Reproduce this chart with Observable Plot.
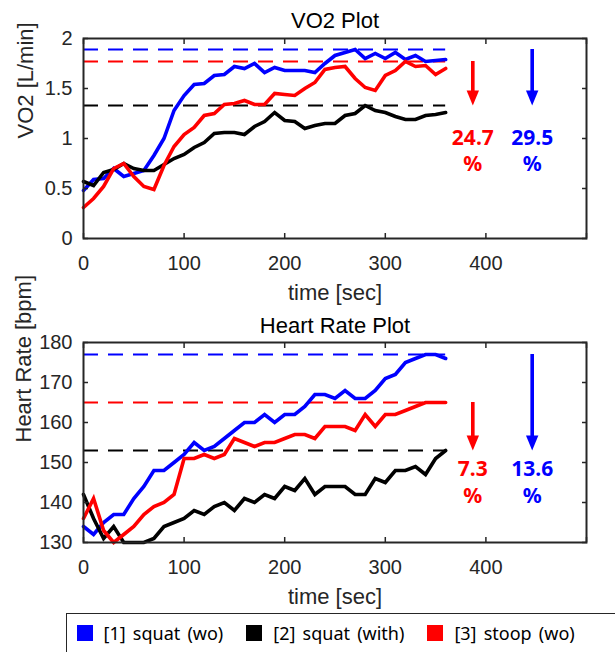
<!DOCTYPE html>
<html>
<head>
<meta charset="utf-8">
<script src="https://cdn.jsdelivr.net/npm/d3@7"></script>
<script src="https://cdn.jsdelivr.net/npm/@observablehq/plot@0.6"></script>
<style>
  body { margin: 0; background: #fff; }
  #wrap { position: relative; width: 615px; height: 652px; overflow: hidden; background: #fff; }
  #top { position: absolute; left: 0; top: 0; }
  #bot { position: absolute; left: 0; top: 300px; }
  #legend { position: absolute; left: 66px; top: 613px; width: 600px; height: 60px; box-sizing: border-box;
            border: 1.5px solid #262626; background: #fff; font-family: "Noto Sans", sans-serif; font-size: 18px; color: #000;
            word-spacing: 2.5px; display: flex; align-items: flex-start; padding-left: 9.5px; padding-top: 1px; }
  .item { display: flex; align-items: center; margin-right: 23px; height: 36px; white-space: pre; }
  .sw { width: 16px; height: 16px; margin-right: 11px; }
</style>
</head>
<body>
<div id="wrap">
  <div id="top"></div>
  <div id="bot"></div>
  <div id="legend"></div>
</div>
<script>
// ---------- data ----------
const time = [0,10,20,30,40,50,60,70,80,90,100,110,120,130,140,150,160,170,180,
              190,200,210,220,230,240,250,260,270,280,290,300,310,320,330,340,350,360];

const seriesNames = ["[1] squat (wo)", "[2] squat (with)", "[3] stoop (wo)"];
const seriesColors = ["#0000ff", "#000000", "#ff0000"];

// VO2 [L/min]
const vo2SquatWo = [0.48,0.59,0.60,0.70,0.62,0.65,0.68,0.83,1.00,1.28,1.43,1.54,1.55,1.63,1.64,1.72,1.70,1.75,1.66,
                    1.71,1.68,1.68,1.68,1.66,1.75,1.83,1.86,1.89,1.80,1.85,1.80,1.86,1.79,1.83,1.77,1.78,1.79];
const vo2SquatWith = [0.57,0.53,0.66,0.69,0.75,0.70,0.68,0.68,0.74,0.80,0.84,0.91,0.96,1.05,1.06,1.06,1.04,1.12,1.17,
                      1.26,1.18,1.17,1.10,1.13,1.15,1.15,1.23,1.25,1.33,1.28,1.26,1.22,1.19,1.19,1.23,1.24,1.26];
const vo2StoopWo = [0.31,0.40,0.52,0.70,0.75,0.62,0.52,0.49,0.73,0.92,1.04,1.11,1.23,1.25,1.34,1.35,1.38,1.34,1.34,
                    1.45,1.44,1.43,1.50,1.56,1.69,1.71,1.72,1.60,1.51,1.48,1.63,1.68,1.77,1.72,1.73,1.64,1.70];
const vo2Levels = [1.89, 1.33, 1.77];          // dashed reference levels (blue, black, red)
const vo2Reduction = ["29.5", "24.7"];         // blue, red

// Heart rate [bpm]
const hrSquatWo = [134,132,135,137,137,141,144,148,148,150,152,155,153,154,156,158,160,160,162,
                   160,162,162,164,167,167,166,168,166,166,168,171,172,175,176,177,177,176];
const hrSquatWith = [142,136,131,134,130,130,130,131,134,135,136,138,137,139,140,138,141,140,142,
                     141,144,143,146,142,144,144,144,142,142,146,145,148,148,149,147,151,153];
const hrStoopWo = [136,141,133,130,132,134,137,139,140,142,151,151,152,151,152,156,155,154,155,
                   155,156,157,157,156,159,159,159,158,162,159,162,162,163,164,165,165,165];
const hrLevels = [177, 153, 165];
const hrReduction = ["13.6", "7.3"];

const vo2Ticks = [0, 0.5, 1, 1.5, 2];
const vo2TickLabels = ["0", "0.5", "1", "1.5", "2"];
const hrTicks = [130, 140, 150, 160, 170, 180];
const xTicks = [0, 100, 200, 300, 400, 500];

// ---------- drawing ----------
const ANN_X = [446, 387];   // annotation columns (x data units): blue, red
const FONT = "'Liberation Sans', Arial, sans-serif";
const AX = "#262626";

const headShape = {
  draw(context) {           // filled downward triangle, tip at origin
    context.moveTo(-6.2, -15);
    context.lineTo(6.2, -15);
    context.lineTo(0, 0);
    context.closePath();
  }
};

function panel(o) {
  const series = o.series.map((vals, k) => vals.map((v, i) => ({t: time[i], v, k})));
  const base = o.levels[1];
  const ann = [
    {x: ANN_X[0], top: o.levels[0], c: seriesColors[0], label: o.red[0]},
    {x: ANN_X[1], top: o.levels[2], c: seriesColors[2], label: o.red[1]}
  ];
  const yTickFmt = o.tickLabels ? (d => o.tickLabels[o.ticks.indexOf(d)]) : (d => String(d));
  return Plot.plot({
    width: 615,
    height: o.height,
    marginLeft: 83, marginRight: 29, marginTop: o.mt, marginBottom: o.mb,
    x: {domain: [0, 500]},
    y: {domain: o.domain},
    style: {fontFamily: FONT, fontSize: "20px", color: AX, background: "transparent", overflow: "visible"},
    marks: [
      // dashed reference levels
      Plot.ruleY(o.levels, {y: d => d, x1: time[0], x2: time[time.length - 1],
        stroke: (d, i) => seriesColors[i], strokeWidth: 2.2, strokeDasharray: "15,10"}),
      // data lines
      ...series.map((s, k) => Plot.line(s, {x: "t", y: "v", stroke: seriesColors[k], strokeWidth: 3.6,
        strokeLinejoin: "miter", strokeMiterlimit: 3})),
      // frame and ticks
      Plot.frame({stroke: AX, strokeWidth: 2}),
      Plot.axisX({ticks: xTicks, tickSize: -5, tickPadding: 22, strokeWidth: 1.5, fontSize: 20,
        tickFormat: d => d === 500 ? "" : String(d), label: null}),
      Plot.axisX({anchor: "top", ticks: xTicks, tickSize: -5, strokeWidth: 1.5, tickFormat: () => "", label: null}),
      Plot.axisY({ticks: o.ticks, tickSize: -5, tickPadding: 16, strokeWidth: 1.5, fontSize: 20,
        tickFormat: yTickFmt, label: null}),
      Plot.axisY({anchor: "right", ticks: o.ticks, tickSize: -5, strokeWidth: 1.5, tickFormat: () => "", label: null}),
      // labels & title
      Plot.text([o.title], {text: d => d, frameAnchor: "top", dy: o.titleDy, fontSize: 22, fill: "#000", lineAnchor: "middle"}),
      Plot.text(["time [sec]"], {text: d => d, frameAnchor: "bottom", dy: 54, fontSize: 22, fill: AX, lineAnchor: "middle"}),
      Plot.text([o.ylabel], {text: d => d, frameAnchor: "left", dx: o.ylabelDx, rotate: -90, fontSize: 22, fill: AX, lineAnchor: "middle"}),
      // reduction arrows
      Plot.ruleX(ann, {x: "x", y1: "top", y2: () => base, stroke: "c", strokeWidth: 3.6, insetBottom: 10}),
      Plot.dot(ann, {x: "x", y: () => base, symbol: headShape, fill: "c", stroke: "none", r: 5}),
      Plot.text(ann, {x: "x", y: () => base, text: "label", dy: o.numDy, fill: "c", fontSize: 21, fontWeight: "bold",
        fontFamily: "'Noto Sans', sans-serif", lineAnchor: "middle"}),
      Plot.text(ann, {x: "x", y: () => base, text: () => "%", dy: o.pctDy, fill: "c", fontSize: 21, fontWeight: "bold",
        fontFamily: "'Noto Sans', sans-serif", lineAnchor: "middle"})
    ]
  });
}

document.getElementById("top").append(panel({
  series: [vo2SquatWo, vo2SquatWith, vo2StoopWo],
  levels: vo2Levels, red: vo2Reduction,
  domain: [0, 2], ticks: vo2Ticks, tickLabels: vo2TickLabels,
  title: "VO2 Plot", ylabel: "VO2 [L/min]",
  height: 300, mt: 38, mb: 62, titleDy: -18, ylabelDx: -58, numDy: 33, pctDy: 59
}));

document.getElementById("bot").append(panel({
  series: [hrSquatWo, hrSquatWith, hrStoopWo],
  levels: hrLevels, red: hrReduction,
  domain: [130, 180], ticks: hrTicks, tickLabels: null,
  title: "Heart Rate Plot", ylabel: "Heart Rate [bpm]",
  height: 310, mt: 42, mb: 68, titleDy: -17, ylabelDx: -60, numDy: 19, pctDy: 46
}));

// legend
const legend = document.getElementById("legend");
seriesNames.forEach((name, i) => {
  const item = document.createElement("div");
  item.className = "item";
  const sw = document.createElement("div");
  sw.className = "sw";
  sw.style.background = seriesColors[i];
  const tx = document.createElement("span");
  tx.textContent = name;
  item.append(sw, tx);
  legend.append(item);
});
</script>
</body>
</html>
